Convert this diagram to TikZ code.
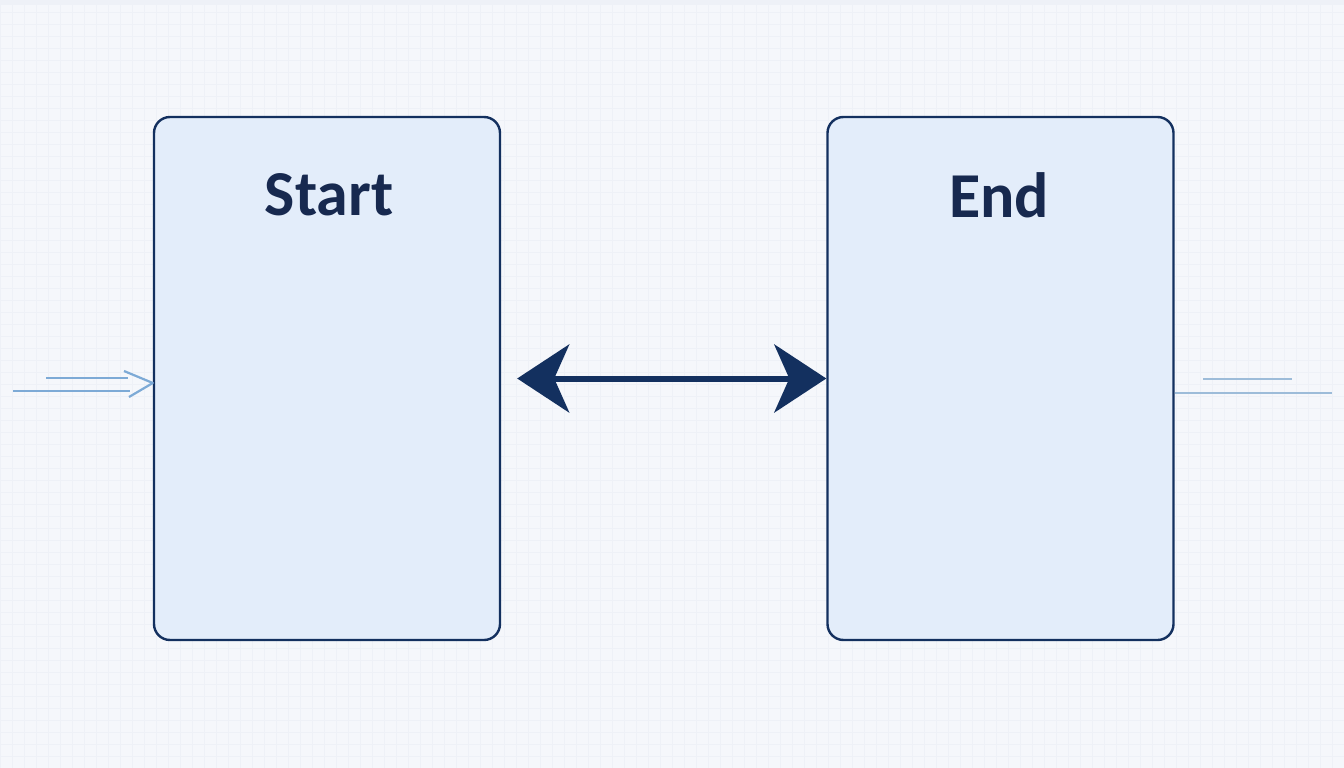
\documentclass[tikz,border=0pt]{standalone}
\usepackage{fontspec}
\setmainfont{Carlito}
\usetikzlibrary{arrows.meta}
\definecolor{bgc}{HTML}{F5F7FB}
\definecolor{boxfill}{HTML}{E3EDFA}
\definecolor{navy}{HTML}{13305F}
\definecolor{textnavy}{HTML}{17294F}
\definecolor{lightarrow}{HTML}{7DAAD6}
\definecolor{lightline}{HTML}{9DBCD9}
\definecolor{gridc}{HTML}{EEF1F7}
\tikzset{
  stagebox/.style={draw=navy, line width=2.4pt, fill=boxfill, rounded corners=16pt,
    minimum width=346pt, minimum height=523pt, inner sep=0pt},
  stagelabel/.style={text=textnavy, font=\bfseries\fontsize{64}{76}\selectfont, inner sep=0pt},
  mainarrow/.style={draw=navy, line width=6pt,
    {Stealth[length=52pt, width=68pt, inset=15pt]}-{Stealth[length=52pt, width=68pt, inset=15pt]}},
  inline/.style={draw=lightarrow, line width=2.2pt},
  outline/.style={draw=lightline, line width=2.2pt},
}
\begin{document}
\begin{tikzpicture}[x=1pt,y=-1pt]
\useasboundingbox (0,0) rectangle (1344,768);
\fill[bgc] (0,0) rectangle (1344,768);
\draw[gridc, line width=0.4pt, step=12pt] (0,0) grid (1344,768);
\fill[gridc] (0,0) rectangle (1344,5);
% boxes
\node[stagebox] (start) at (327,378.5) {};
\node[stagebox] (end) at (1000.5,378.5) {};
\node[stagelabel] (startlbl) at (329,195) {Start};
\node[stagelabel] (endlbl) at (999,195) {End};
% double arrow
\draw[mainarrow, shorten <=16pt] (start.east) -- (end.west);
% incoming arrows on the left
\coordinate (inA) at (46,378);
\coordinate (inAend) at (128,378);
\coordinate (inB) at (13,391);
\coordinate (inBend) at (130,391);
\coordinate (tipup) at (124,371);
\coordinate (tipdn) at (129,397);
\draw[inline] (inA) -- (inAend);
\draw[inline] (inB) -- (inBend);
\draw[inline, line join=round] (tipup) -- ([yshift=-4.5pt]start.west) -- (tipdn);
% outgoing lines on the right
\coordinate (outA) at (1203,379);
\coordinate (outAend) at (1292,379);
\coordinate (outBend) at (1332,393);
\draw[outline] (outA) -- (outAend);
\draw[outline] ([yshift=-14.5pt]end.east) -- (outBend);
\end{tikzpicture}
\end{document}
